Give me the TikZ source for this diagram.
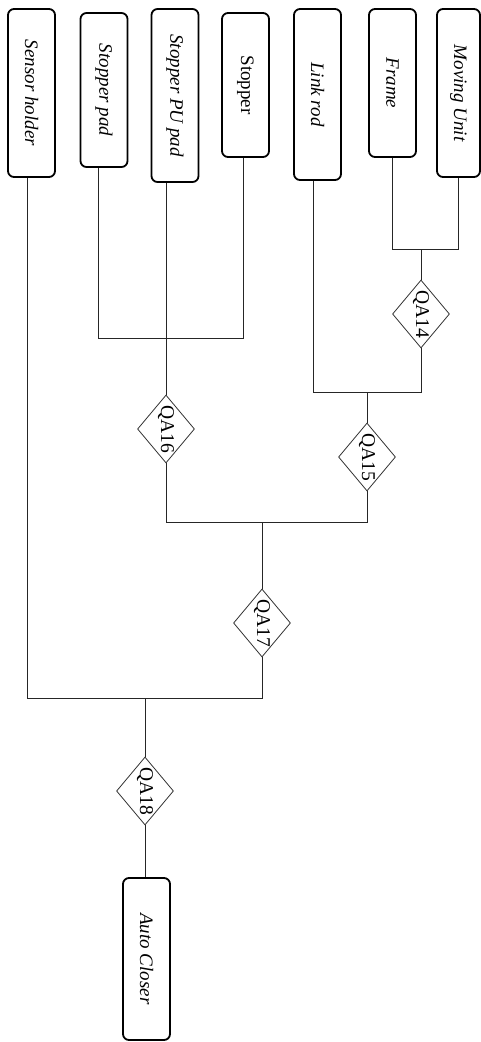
\documentclass[tikz,border=0pt]{standalone}
\usepackage{fontspec}
\setmainfont{Liberation Serif}
\usetikzlibrary{shapes.geometric}
\begin{document}
\begin{tikzpicture}[x=1pt,y=-1pt,
  part/.style={draw, line width=1.8pt, rounded corners=6pt, rotate=-90,
    minimum height=47pt, inner sep=0pt, fill=white,
    font=\fontsize{19}{22}\selectfont\itshape},
  qa/.style={draw, diamond, aspect=1.2, line width=0.8pt, black!80, text=black,
    rotate=-90, minimum width=68pt, minimum height=57pt, inner sep=0pt,
    fill=white, font=\fontsize{19.5}{22}\selectfont},
  wire/.style={line width=1pt, black!85}]
  \fill[white] (0,0) rectangle (481,1042);
  \useasboundingbox (0,0) rectangle (481,1042);

  % component parts (rotated labels read top to bottom)
  \node[part, minimum width=168pt] (sensor)  at (31.5,93)  {Sensor holder};
  \node[part, minimum width=154pt] (spad)    at (104,90)   {Stopper pad};
  \node[part, minimum width=173pt] (pupad)   at (175,95.5) {Stopper PU pad};
  \node[part, minimum width=144pt, font=\fontsize{19}{22}\selectfont] (stopper) at (245.5,85) {Stopper};
  \node[part, minimum width=171pt] (linkrod) at (317.5,94.5) {Link rod};
  \node[part, minimum width=148pt] (frame)   at (392.5,83) {Frame};
  \node[part, minimum width=168pt, minimum height=43pt] (moving) at (458.5,93) {Moving Unit};
  \node[part, minimum width=162pt] (auto)    at (146.5,959) {Auto Closer};

  % quality assurance checkpoints
  \node[qa] (qa14) at (421,314) {QA14};
  \node[qa] (qa15) at (367,457) {QA15};
  \node[qa] (qa16) at (166,429) {QA16};
  \node[qa] (qa17) at (262,623) {QA17};
  \node[qa] (qa18) at (145,791) {QA18};

  % junction points of the assembly tree
  \coordinate (j14L) at (392,249);
  \coordinate (j14)  at (421,249);
  \coordinate (j14R) at (458,249);
  \coordinate (j15L) at (313,392);
  \coordinate (j15)  at (367,392);
  \coordinate (j15R) at (421,392);
  \coordinate (j16L) at (98,338);
  \coordinate (j16R) at (243,338);
  \coordinate (j17L) at (166,522);
  \coordinate (j17)  at (262,522);
  \coordinate (j17R) at (367,522);
  \coordinate (j18L) at (27,698);
  \coordinate (j18)  at (145,698);
  \coordinate (j18R) at (262,698);

  % frame + moving unit -> QA14
  \draw[wire] (frame.east -| j14L) -- (j14L) -- (j14R) -- (moving.east -| j14R);
  \draw[wire] (j14) -- (qa14.west);
  % QA14 + link rod -> QA15
  \draw[wire] (qa14.east) -- (j15R) -- (j15L) -- (linkrod.east -| j15L);
  \draw[wire] (j15) -- (qa15.west);
  % stopper pad + stopper + PU pad -> QA16
  \draw[wire] (spad.east -| j16L) -- (j16L) -- (j16R) -- (stopper.east -| j16R);
  \draw[wire] (pupad.east -| qa16) -- (qa16.west);
  % QA16 + QA15 -> QA17
  \draw[wire] (qa16.east) -- (j17L) -- (j17R) -- (qa15.east);
  \draw[wire] (j17) -- (qa17.west);
  % sensor holder + QA17 -> QA18
  \draw[wire] (sensor.east -| j18L) -- (j18L) -- (j18R) -- (qa17.east);
  \draw[wire] (j18) -- (qa18.west);
  % QA18 -> auto closer
  \draw[wire] (qa18.east) -- (qa18.east |- auto.west);
\end{tikzpicture}
\end{document}
